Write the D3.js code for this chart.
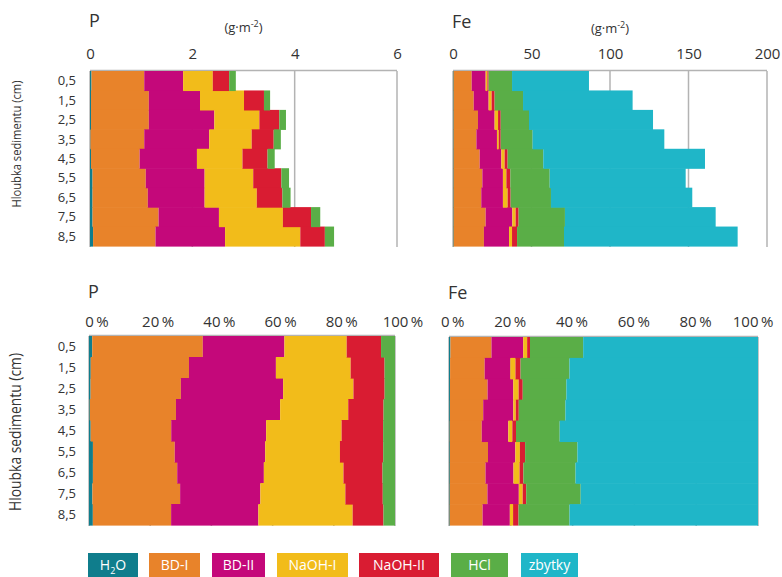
<!DOCTYPE html>
<html>
<head>
<meta charset="utf-8">
<script src="https://cdn.jsdelivr.net/npm/d3@7"></script>
<style>
body{margin:0;background:#fff;}
svg text{font-family:"Open Sans","Noto Sans",sans-serif;fill:#333;}
</style>
</head>
<body>
<svg id="chart" width="782" height="577"></svg>
<script>
// ---------- data ----------
const depths = ["0,5","1,5","2,5","3,5","4,5","5,5","6,5","7,5","8,5"];
const fractions = ["H2O","BD-I","BD-II","NaOH-I","NaOH-II","HCl","zbytky"];
const fractionLabels = ["H₂O","BD-I","BD-II","NaOH-I","NaOH-II","HCl","zbytky"];
const colors = ["#0f7d8c","#e8832a","#c4087a","#f2bc1a","#d91c32","#5aae47","#1fb6c8"];

// P (g·m-2)
const P_H2O    = [0.03,0.02,0.02,0.01,0.02,0.05,0.05,0.05,0.06];
const P_BDI    = [1.03,1.13,1.13,1.05,0.95,1.04,1.08,1.29,1.22];
const P_BDII   = [0.76,1.00,1.28,1.27,1.12,1.15,1.11,1.18,1.36];
const P_NaOHI  = [0.58,0.86,0.88,0.83,0.89,0.95,1.02,1.25,1.47];
const P_NaOHII = [0.32,0.39,0.39,0.43,0.49,0.55,0.50,0.55,0.48];
const P_HCl    = [0.13,0.12,0.13,0.14,0.14,0.15,0.16,0.18,0.18];
const P_zbytky = [0,0,0,0,0,0,0,0,0];

// Fe (g·m-2)
const Fe_H2O    = [0.4,0.4,0.4,0.4,0.4,0.4,0.4,0.4,0.4];
const Fe_BDI    = [11.5,12.8,15.5,14.5,16.6,18.3,17.6,20.4,19.3];
const Fe_BDII   = [8.9,9.5,10.6,13.1,13.8,13.1,13.8,17.0,16.0];
const Fe_NaOHI  = [1.1,1.9,2.2,1.1,2.1,2.2,3.0,2.1,1.9];
const Fe_NaOHII = [0.8,1.9,1.7,1.3,1.9,2.5,1.9,1.9,3.2];
const Fe_HCl    = [14.9,18.1,18.0,20.3,22.7,25.1,25.7,29.5,29.9];
const Fe_zbytky = [49.0,69.8,79.0,83.9,103.0,86.6,90.0,96.0,110.6];

const absTicksP = [0,2,4,6];
const absTicksFe = [0,50,100,150,200];
const pctTicks = [0,0.2,0.4,0.6,0.8,1.0];

function rows(series){
  return depths.map((d,i)=>{
    const o={depth:d};
    fractions.forEach((k,j)=>o[k]=series[j][i]);
    return o;
  });
}
const dataP = rows([P_H2O,P_BDI,P_BDII,P_NaOHI,P_NaOHII,P_HCl,P_zbytky]);
const dataFe = rows([Fe_H2O,Fe_BDI,Fe_BDII,Fe_NaOHI,Fe_NaOHII,Fe_HCl,Fe_zbytky]);

const svg = d3.select("#chart");
const color = d3.scaleOrdinal().domain(fractions).range(colors);

function panel(opts){
  const {data,x0,x1,y0,y1,domain,ticks,expand,title,titleY,unit,tickY,pctAlign} = opts;
  const g = svg.append("g");
  const x = d3.scaleLinear().domain(domain).range([x0,x1]);
  const y = d3.scaleBand().domain(depths).range([y0,y1]).padding(0);
  const stack = d3.stack().keys(fractions);
  if(expand) stack.offset(d3.stackOffsetExpand);
  const series = stack(data);

  // grid
  g.append("g").selectAll("line").data(ticks).join("line")
    .attr("x1",d=>x(d)).attr("x2",d=>x(d))
    .attr("y1",y0).attr("y2",y1+1)
    .attr("stroke","#b3b3b3").attr("stroke-width",1.5);
  g.append("line").attr("x1",x0).attr("x2",x1).attr("y1",y0-0.5).attr("y2",y0-0.5)
    .attr("stroke","#b3b3b3").attr("stroke-width",1.5);

  // bars
  g.append("g").selectAll("g").data(series).join("g")
    .attr("fill",s=>color(s.key))
    .selectAll("rect").data(s=>s).join("rect")
    .attr("x",d=>x(d[0])).attr("width",d=>Math.max(0,x(d[1])-x(d[0])))
    .attr("y",d=>y(d.data.depth)).attr("height",y.bandwidth()+0.6);

  // top axis labels (number part aligned on tick)
  const ax = d3.axisTop(x).tickValues(ticks).tickSize(0).tickPadding(0)
    .tickFormat(d=> expand ? String(Math.round(d*100)) : d3.format("d")(d));
  const axg = g.append("g").attr("transform",`translate(0,${tickY})`).call(ax);
  axg.select(".domain").remove();
  axg.selectAll("text").style("font-family",'"Open Sans","Noto Sans",sans-serif')
    .style("font-size","15px").attr("fill","#333").attr("dy","0");
  if(expand){
    axg.selectAll("text").each(function(){
      const t = d3.select(this);
      const num = t.text();
      const w = this.getComputedTextLength();
      t.attr("text-anchor","start").attr("x", pctAlign==="end" ? -w : -w/2);
      t.text(num + "\u2009%");
    });
  }

  // title
  g.append("text").attr("x",x0-1).attr("y",titleY).text(title)
    .style("font-size","18px");
  if(unit){
    const t = g.append("text").attr("x",(x0+x1)/2).attr("y",titleY+5)
      .attr("text-anchor","middle").style("font-size","13px");
    t.append("tspan").text("(g·m");
    t.append("tspan").text("-2").attr("dy","-5").style("font-size","9px");
    t.append("tspan").text(")").attr("dy","5");
  }
  return {x,y};
}

const tl = panel({data:dataP,x0:90,x1:397,y0:71,y1:246,domain:[0,6],ticks:absTicksP,expand:false,title:"P",titleY:27,unit:true,tickY:59});
panel({data:dataFe,x0:453,x1:767,y0:71,y1:246,domain:[0,200],ticks:absTicksFe,expand:false,title:"Fe",titleY:28,unit:true,tickY:59});
const bl = panel({data:dataP,x0:89,x1:395,y0:336,y1:525,domain:[0,1],ticks:pctTicks,expand:true,title:"P",titleY:298,unit:false,tickY:327,pctAlign:"middle"});
panel({data:dataFe,x0:449,x1:758,y0:337,y1:525,domain:[0,1],ticks:pctTicks,expand:true,title:"Fe",titleY:299,unit:false,tickY:327,pctAlign:"end"});

// y labels
function yLabels(y, titleCy, titleLen, titleSize){
  const g = svg.append("g");
  g.selectAll("text").data(depths).join("text")
    .attr("x",76).attr("y",d=>y(d)+y.bandwidth()/2).attr("dy","0.35em")
    .attr("text-anchor","end").style("font-size","13px").text(d=>d);
  g.append("text").attr("transform",`translate(21,${titleCy}) rotate(-90)`)
    .attr("text-anchor","middle").style("font-size",titleSize)
    .attr("textLength",titleLen).attr("lengthAdjust","spacingAndGlyphs")
    .text("Hloubka sedimentu (cm)");
}
yLabels(tl.y,144,127,"12.5px");
yLabels(bl.y,432,158,"15.5px");

// legend
const legX = [88,149,212,277,359,451,521];
const legW = [50,51,53,71,80,57,57];
const lg = svg.append("g");
fractions.forEach((k,i)=>{
  lg.append("rect").attr("x",legX[i]).attr("y",553).attr("width",legW[i]).attr("height",24).attr("fill",colors[i]);
  const t = lg.append("text").attr("x",legX[i]+legW[i]/2).attr("y",570).attr("text-anchor","middle")
    .style("font-size","14px").style("fill","#fff");
  if(k==="H2O"){
    t.append("tspan").text("H");
    t.append("tspan").text("2").attr("dy","4").style("font-size","9px");
    t.append("tspan").text("O").attr("dy","-4");
  } else t.text(fractionLabels[i]);
});
</script>
</body>
</html>
